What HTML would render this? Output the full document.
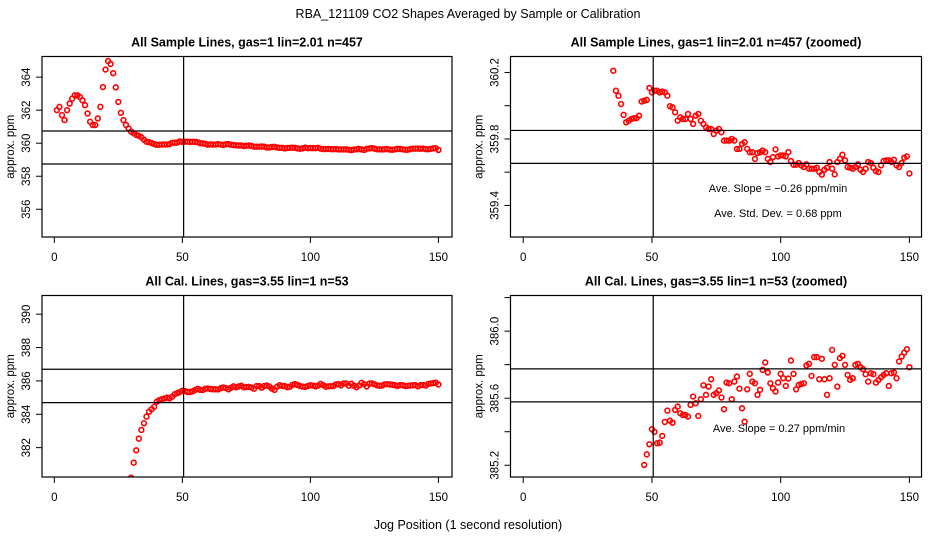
<!DOCTYPE html>
<html><head><meta charset="utf-8"><style>
html,body{margin:0;padding:0;background:#fff;width:936px;height:540px;overflow:hidden;}
svg{display:block;font-family:"Liberation Sans",Arial,sans-serif;overflow:hidden;}
</style></head><body>
<svg id="chart" width="936" height="540" viewBox="0 0 936 540">
<text x="468" y="18" text-anchor="middle" font-size="12.5">RBA_121109  CO2 Shapes Averaged by Sample or Calibration</text>
<text x="468" y="529" text-anchor="middle" font-size="12.5">Jog Position (1 second resolution)</text>
</svg>
<script>
// ---- data ----
const sampleX0 = 1;
const sampleValues = [362.0,362.2,361.7,361.4,362.0,362.4,362.7,362.9,362.9,362.8,362.6,362.3,361.8,361.3,361.1,361.1,361.5,362.2,363.4,364.46,364.98,364.8,364.24,363.38,362.5,361.84,361.4,361.1,360.9,360.7,360.6,360.5,360.45,360.36,
360.21,360.09,360.06,360.01,359.945,359.90,359.91,359.92,359.925,359.925,359.94,360.025,360.03,360.035,360.107,360.08,360.09,360.09,360.08,360.085,360.08,360.06,359.997,359.99,359.96,359.91,359.93,359.92,359.92,359.95,359.92,359.89,359.94,359.95,359.91,359.89,359.87,359.86,359.86,359.83,359.85,359.86,359.84,359.79,359.79,359.79,359.80,359.79,359.74,359.74,359.77,359.78,359.74,359.72,359.72,359.68,359.715,359.72,359.73,359.72,
359.68,359.661,359.691,359.737,359.695,359.701,359.701,359.695,359.721,359.667,359.645,359.645,359.655,359.641,359.631,359.647,359.621,359.621,359.621,359.627,359.601,359.585,359.615,359.627,359.661,359.621,359.587,359.661,359.681,359.705,359.671,359.631,359.627,359.621,359.631,359.647,359.615,359.601,359.621,359.661,359.655,359.627,359.607,359.601,359.641,359.667,359.671,359.671,359.661,359.675,359.641,359.631,359.655,359.687,359.695,359.592];
const calX0 = 30;
const calValues = [380.2,381.1,381.84,382.54,383.06,383.46,383.86,384.16,384.3,384.45,384.75,384.85,384.9,384.95,385.0,384.95,385.05,
385.202,385.265,385.325,385.415,385.399,385.331,385.335,385.375,385.458,385.526,385.466,385.454,385.530,385.550,385.510,385.500,385.500,385.490,385.560,385.610,385.570,385.494,385.594,385.677,385.620,385.669,385.713,385.620,385.630,385.646,385.604,385.534,385.693,385.689,385.594,385.699,385.729,385.657,385.540,385.460,385.653,385.745,385.699,385.689,385.620,385.650,385.769,385.813,385.753,385.689,385.659,385.640,385.693,385.745,385.719,385.673,385.717,385.825,385.745,385.653,385.679,385.685,385.689,385.795,385.805,385.733,385.845,385.845,385.713,385.835,385.713,385.620,385.719,385.888,385.799,385.669,385.839,385.853,385.799,385.739,385.709,385.719,385.799,385.805,385.785,385.773,385.743,385.699,385.749,385.743,385.693,385.709,385.725,385.739,385.749,385.673,385.749,385.753,385.719,385.819,385.849,385.872,385.892,385.785];
const xTicks = [0,50,100,150];
const vLineX = 50.5;
const p1YTicks = [356,358,360,362,364];
const p1YLabels = ["356","358","360","362","364"];
const p1HLines = [360.74,358.74];
const p2YTicks = [359.4,359.6,359.8,360.0,360.2];
const p2YLabels = ["359.4","","359.8","","360.2"];
const p2HLines = [359.851,359.653];
const p3YTicks = [382,384,386,388,390];
const p3YLabels = ["382","384","386","388","390"];
const p3HLines = [386.7,384.7];
const p4YTicks = [385.2,385.4,385.6,385.8,386.0,386.2];
const p4YLabels = ["385.2","","385.6","","386.0",""];
const p4HLines = [385.775,385.578];

const NS = "http://www.w3.org/2000/svg";
const svg = document.getElementById('chart');
function mk(tag, attrs, parent){const e=document.createElementNS(NS,tag);for(const k in attrs)e.setAttribute(k,attrs[k]);(parent||svg).appendChild(e);return e;}

const panels = [
 {id:'p1',title:'All Sample Lines, gas=1 lin=2.01 n=457',L:42,R:452,T:56.5,B:237,x0:-4.8,x1:155.3,y0:354.32,y1:365.25,vals:sampleValues,xs:sampleX0,yt:p1YTicks,yl:p1YLabels,hl:p1HLines,notes:[]},
 {id:'p2',title:'All Sample Lines, gas=1 lin=2.01 n=457 (zoomed)',L:510.5,R:921.5,T:56.5,B:237,x0:-4.93,x1:154.7,y0:359.21,y1:360.296,vals:sampleValues,xs:sampleX0,yt:p2YTicks,yl:p2YLabels,hl:p2HLines,notes:[['Ave. Slope =  \u22120.26  ppm/min',778,192],['Ave. Std. Dev. =  0.68  ppm',778,217]]},
 {id:'p3',title:'All Cal. Lines, gas=3.55 lin=1 n=53',L:42,R:452,T:295.5,B:477,x0:-4.8,x1:155.3,y0:380.24,y1:391.12,vals:calValues,xs:calX0,yt:p3YTicks,yl:p3YLabels,hl:p3HLines,notes:[]},
 {id:'p4',title:'All Cal. Lines, gas=3.55 lin=1 n=53 (zoomed)',L:510.5,R:921.5,T:295.5,B:477,x0:-4.93,x1:154.7,y0:385.13,y1:386.2125,vals:calValues,xs:calX0,yt:p4YTicks,yl:p4YLabels,hl:p4HLines,notes:[['Ave. Slope =  0.27  ppm/min',779,432]]}
];

panels.forEach((p,i)=>{
  const g = mk('g',{});
  
  
  const sx = v => p.L + (v-p.x0)/(p.x1-p.x0)*(p.R-p.L);
  const sy = v => p.B - (v-p.y0)/(p.y1-p.y0)*(p.B-p.T);
  const cx = (p.L+p.R)/2, cy=(p.T+p.B)/2;
  const t = mk('text',{x:cx,y:p.T-10,'text-anchor':'middle','font-size':'12.5','font-weight':'bold'},g);
  t.textContent = p.title;
  
  
  const yt = mk('text',{x:0,y:0,'text-anchor':'middle','font-size':'11.5',transform:`translate(${p.L-28},${cy}) rotate(-90)`},g);
  yt.textContent='approx. ppm';
  
  
  const cid='clip'+i;
  const cp = mk('clipPath',{id:cid},g); mk('rect',{x:p.L,y:p.T,width:p.R-p.L,height:p.B-p.T},cp);
  const pts = mk('g',{'clip-path':`url(#${cid})`,fill:'none',stroke:'#ff0000','stroke-width':'1.6'},g);
  p.vals.forEach((v,k)=>{
    const c = mk('circle',{cx:sx(p.xs+k),cy:sy(v),r:2.4},pts);
    
    
  });
  const ln = mk('g',{stroke:'#000','stroke-width':'1.2'},g);
  p.hl.forEach(h=>{
    const l=mk('line',{x1:p.L,x2:p.R,y1:sy(h),y2:sy(h)},ln);
    
    
  });
  const vl = mk('line',{x1:sx(vLineX),x2:sx(vLineX),y1:p.T,y2:p.B},ln);
  
  
  const box = mk('rect',{x:p.L,y:p.T,width:p.R-p.L,height:p.B-p.T,fill:'none',stroke:'#000','stroke-width':'1.2'},g);
  
  
  xTicks.forEach(v=>{
    mk('line',{x1:sx(v),x2:sx(v),y1:p.B,y2:p.B+6,stroke:'#000','stroke-width':'1'},g);
    const tl = mk('text',{x:sx(v),y:p.B+24,'text-anchor':'middle','font-size':'11.5'},g);
    tl.textContent = v;
    
    
  });
  p.yt.forEach((v,k)=>{
    mk('line',{x1:p.L-6,x2:p.L,y1:sy(v),y2:sy(v),stroke:'#000','stroke-width':'1'},g);
    if(p.yl[k]){
      const tl = mk('text',{x:0,y:0,'text-anchor':'middle','font-size':'11.5',transform:`translate(${p.L-12},${sy(v)}) rotate(-90)`},g);
      tl.textContent = p.yl[k];
      
      
    }
  });
  p.notes.forEach(n=>{
    const a = mk('text',{x:n[1],y:n[2],'text-anchor':'middle','font-size':'11'},g);
    a.textContent = n[0];
    
    
  });
});
</script>
</body></html>
